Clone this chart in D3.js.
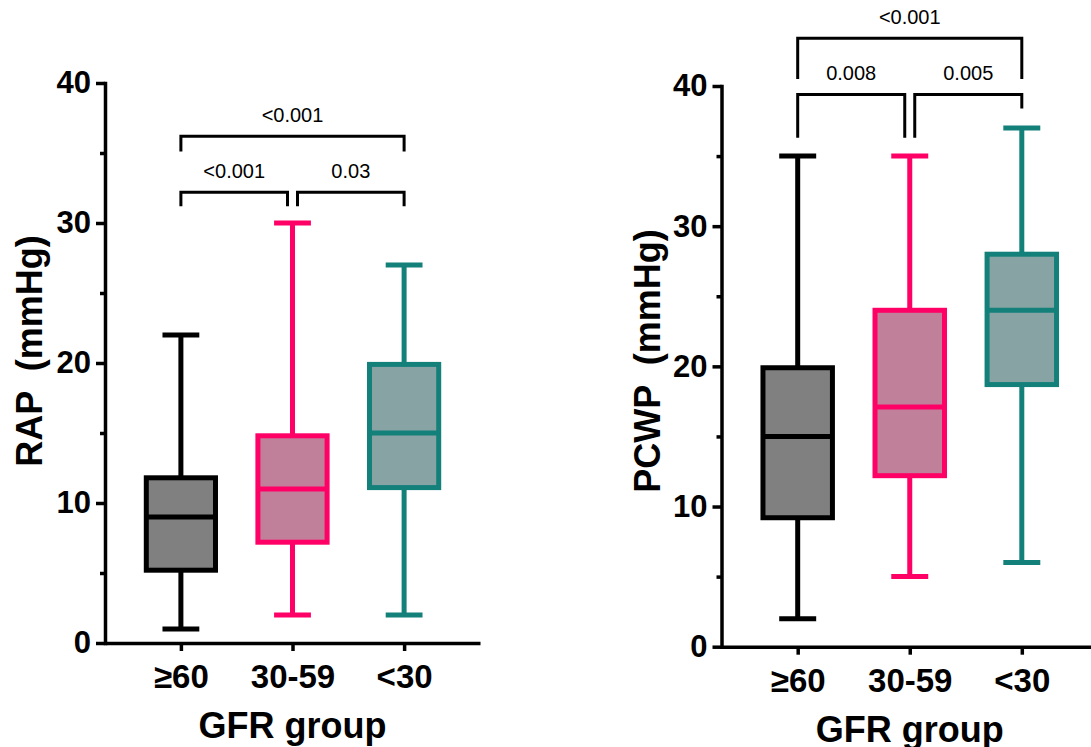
<!DOCTYPE html>
<html>
<head>
<meta charset="utf-8">
<script src="https://cdn.jsdelivr.net/npm/d3@7"></script>
<style>
  html, body { margin: 0; padding: 0; background: #ffffff; }
  svg { display: block; }
  text { font-family: "Liberation Sans", Arial, sans-serif; }
</style>
</head>
<body>
<svg id="chart" width="1091" height="747"></svg>
<script>
// ---------- data ----------
const categories = ["≥60", "30-59", "<30"];

const rapMin    = [1, 2, 2];
const rapQ1     = [5.2, 7.2, 11.1];
const rapMedian = [9, 11, 15];
const rapQ3     = [11.8, 14.8, 19.9];
const rapMax    = [22, 30, 27];

const pcwpMin    = [2, 5, 6];
const pcwpQ1     = [9.2, 12.2, 18.7];
const pcwpMedian = [15, 17.1, 24];
const pcwpQ3     = [19.9, 24, 28];
const pcwpMax    = [35, 35, 37];

const yTicks      = [0, 10, 20, 30, 40];
const yMinorTicks = [5, 15, 25, 35];

// significance brackets (levels in mmHg)
const rapBrackets = [
  { from: 0, to: 2, level: 36.2, drop: [35.1, 35.1], p: "<0.001" },
  { from: 0, to: 1, level: 32.2, drop: [31.2, 31.2], p: "<0.001" },
  { from: 1, to: 2, level: 32.2, drop: [31.2, 31.2], p: "0.03" }
];
const pcwpBrackets = [
  { from: 0, to: 2, level: 43.4, drop: [40.5, 40.5], p: "<0.001" },
  { from: 0, to: 1, level: 39.4, drop: [36.3, 36.3], p: "0.008" },
  { from: 1, to: 2, level: 39.4, drop: [36.3, 38.4], p: "0.005" }
];

const strokeColors = ["#000000", "#FF0066", "#13807A"];
const fillColors   = ["#808080", "#C0809A", "#88A3A3"];

const xTitle = "GFR group";

// ---------- drawing ----------
const svg = d3.select("#chart");

function panel(cfg) {
  const g = svg.append("g");
  const y = d3.scaleLinear().domain([0, 40]).range([cfg.bottom, cfg.top]);
  const x = d3.scalePoint().domain(categories).range([cfg.left, cfg.right]).padding(0.68);
  const step = x.step();
  const boxW = step * 0.62;
  const capW = step * 0.33;
  const rows = categories.map((c, i) => ({
    c, i, min: cfg.min[i], q1: cfg.q1[i], med: cfg.median[i], q3: cfg.q3[i], max: cfg.max[i]
  }));

  // whiskers
  const bx = g.selectAll(".bx").data(rows).enter().append("g");
  bx.append("line")
    .attr("x1", d => x(d.c)).attr("x2", d => x(d.c))
    .attr("y1", d => y(d.max)).attr("y2", d => y(d.q3))
    .attr("stroke", d => strokeColors[d.i]).attr("stroke-width", 5);
  bx.append("line")
    .attr("x1", d => x(d.c)).attr("x2", d => x(d.c))
    .attr("y1", d => y(d.q1)).attr("y2", d => y(d.min))
    .attr("stroke", d => strokeColors[d.i]).attr("stroke-width", 5);
  bx.append("line")
    .attr("x1", d => x(d.c) - capW / 2).attr("x2", d => x(d.c) + capW / 2)
    .attr("y1", d => y(d.max)).attr("y2", d => y(d.max))
    .attr("stroke", d => strokeColors[d.i]).attr("stroke-width", 5);
  bx.append("line")
    .attr("x1", d => x(d.c) - capW / 2).attr("x2", d => x(d.c) + capW / 2)
    .attr("y1", d => y(d.min)).attr("y2", d => y(d.min))
    .attr("stroke", d => strokeColors[d.i]).attr("stroke-width", 5);
  // boxes
  bx.append("rect")
    .attr("x", d => x(d.c) - boxW / 2).attr("width", boxW)
    .attr("y", d => y(d.q3)).attr("height", d => y(d.q1) - y(d.q3))
    .attr("fill", d => fillColors[d.i])
    .attr("stroke", d => strokeColors[d.i]).attr("stroke-width", 5);
  bx.append("line")
    .attr("x1", d => x(d.c) - boxW / 2).attr("x2", d => x(d.c) + boxW / 2)
    .attr("y1", d => y(d.med)).attr("y2", d => y(d.med))
    .attr("stroke", d => strokeColors[d.i]).attr("stroke-width", 5);

  // y axis
  const yAxis = g.append("g").attr("transform", `translate(${cfg.left},0)`)
    .call(d3.axisLeft(y).tickValues(yTicks).tickSize(9).tickPadding(5).tickSizeOuter(0));
  yAxis.select(".domain").attr("stroke", "#000").attr("stroke-width", 3.5).attr("stroke-linecap", "square");
  yAxis.selectAll(".tick line").attr("stroke", "#000").attr("stroke-width", 3.5);
  yAxis.selectAll(".tick text").attr("fill", "#000")
    .style("font-size", "31px").style("font-weight", "bold");
  const yMinor = g.append("g").attr("transform", `translate(${cfg.left},0)`)
    .call(d3.axisLeft(y).tickValues(yMinorTicks).tickSize(5).tickFormat("").tickSizeOuter(0));
  yMinor.select(".domain").remove();
  yMinor.selectAll(".tick line").attr("stroke", "#000").attr("stroke-width", 3.5);

  // x axis
  const xAxis = g.append("g").attr("transform", `translate(0,${cfg.bottom})`)
    .call(d3.axisBottom(x).tickSize(8).tickSizeOuter(0));
  xAxis.select(".domain").attr("stroke", "#000").attr("stroke-width", 3.5);
  xAxis.selectAll(".tick line").attr("stroke", "#000").attr("stroke-width", 3.5);
  xAxis.selectAll(".tick text").attr("fill", "#000")
    .attr("y", 45).attr("dy", 0)
    .style("font-size", "33px").style("font-weight", "bold");

  // axis titles
  g.append("text")
    .attr("x", x(categories[1])).attr("y", cfg.bottom + 95)
    .attr("text-anchor", "middle")
    .style("font-size", "36px").style("font-weight", "bold")
    .text(xTitle);
  g.append("text")
    .attr("transform", `translate(${cfg.titleX},${cfg.titleY}) rotate(-90)`)
    .attr("text-anchor", "middle")
    .style("font-size", "36px").style("font-weight", "bold")
    .style("white-space", "pre")
    .text(cfg.title);

  // brackets
  const ends = cfg.brackets.map(b => {
    const shared = (idx) => cfg.brackets.some(o => o !== b && o.level === b.level && (o.from === idx || o.to === idx));
    const x1 = x(categories[b.from]) + (shared(b.from) ? 5 : 0);
    const x2 = x(categories[b.to]) - (shared(b.to) ? 5 : 0);
    return { b, x1, x2 };
  });
  const br = g.selectAll(".br").data(ends).enter().append("g");
  br.append("path")
    .attr("d", d => `M${d.x1},${y(d.b.drop[0])} V${y(d.b.level)} H${d.x2} V${y(d.b.drop[1])}`)
    .attr("fill", "none").attr("stroke", "#000").attr("stroke-width", 3);
  br.append("text")
    .attr("x", d => (d.x1 + d.x2) / 2)
    .attr("y", d => y(d.b.level) - 14)
    .attr("text-anchor", "middle")
    .style("font-size", "20px")
    .text(d => d.b.p);
}

panel({
  left: 105, right: 480, top: 83, bottom: 643,
  min: rapMin, q1: rapQ1, median: rapMedian, q3: rapQ3, max: rapMax,
  title: "RAP  (mmHg)", titleX: 42, titleY: 351,
  brackets: rapBrackets
});
panel({
  left: 721.5, right: 1098, top: 86, bottom: 646.7,
  min: pcwpMin, q1: pcwpQ1, median: pcwpMedian, q3: pcwpQ3, max: pcwpMax,
  title: "PCWP  (mmHg)", titleX: 660, titleY: 361,
  brackets: pcwpBrackets
});
</script>
</body>
</html>
